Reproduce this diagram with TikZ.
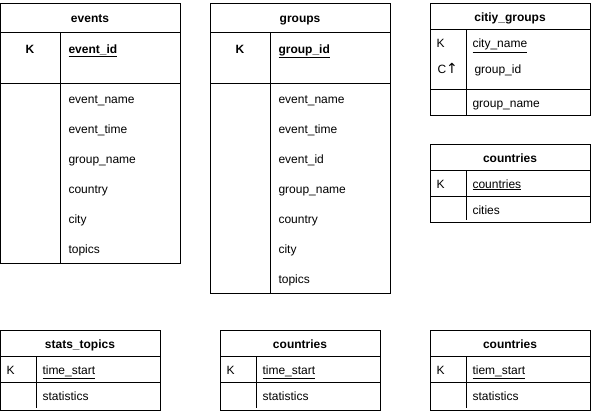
\documentclass[tikz,border=0pt]{standalone}
\usepackage{fontspec}
\setmainfont{Liberation Sans}
\newfontfamily\arrowfont{DejaVu Sans}
\begin{document}
\begin{tikzpicture}[x=1pt,y=-1pt,line width=1pt,
  tbl/.style={draw=black},
  ttl/.style={font=\fontsize{12}{14}\selectfont\bfseries,inner sep=0,anchor=base,yshift=-1pt},
  keyb/.style={font=\fontsize{12}{14}\selectfont\bfseries,inner sep=0,anchor=base,yshift=-1pt},
  fld/.style={font=\fontsize{12}{14}\selectfont,inner sep=0,anchor=base west,yshift=-1pt},
  fldb/.style={font=\fontsize{12}{14}\selectfont\bfseries,inner sep=0,anchor=base west,yshift=-1pt}]
\useasboundingbox (0,0) rectangle (591,412);
% ---- events
\draw[tbl] (0,4) rectangle (180,263);
\draw[tbl] (0,33) -- (180,33) (0,83) -- (180,83) (60,33) -- (60,263);
\node[ttl] (evT) at (90,22) {events};
\node[keyb] (evK) at (30,52) {K};
\node[fldb] (evId) at (68,52) {\underline{event\_id}};
\node[fld] (ev1) at (68,102) {event\_name};
\node[fld] (ev2) at (68,132) {event\_time};
\node[fld] (ev3) at (68,162) {group\_name};
\node[fld] (ev4) at (68,192) {country};
\node[fld] (ev5) at (68,222) {city};
\node[fld] (ev6) at (68,252) {topics};
% ---- groups
\draw[tbl] (210,4) rectangle (390,293);
\draw[tbl] (210,33) -- (390,33) (210,83) -- (390,83) (270,33) -- (270,293);
\node[ttl] (grT) at (300,22) {groups};
\node[keyb] (grK) at (240,52) {K};
\node[fldb] (grId) at (278,52) {\underline{group\_id}};
\node[fld] (gr1) at (278,102) {event\_name};
\node[fld] (gr2) at (278,132) {event\_time};
\node[fld] (gr3) at (278,162) {event\_id};
\node[fld] (gr4) at (278,192) {group\_name};
\node[fld] (gr5) at (278,222) {country};
\node[fld] (gr6) at (278,252) {city};
\node[fld] (gr7) at (278,282) {topics};
% ---- citiy_groups
\draw[tbl] (430,4) rectangle (590,115);
\draw[tbl] (430,30) -- (590,30) (430,89) -- (590,89) (466,30) -- (466,115);
\node[ttl] (cgT) at (510,21) {citiy\_groups};
\node[fld] (cgK) at (436,47) {K};
\node[fld] (cgC) at (437,73) {C{\arrowfont\fontsize{14}{16}\selectfont↑}};
\node[fld] (cg1) at (472,47) {\underline{city\_name}};
\node[fld] (cg2) at (474,73) {group\_id};
\node[fld] (cg3) at (472,106) {group\_name};
% ---- countries (right)
\draw[tbl] (430,144) rectangle (590,222);
\draw[tbl] (430,170) -- (590,170) (430,196) -- (590,196) (466,170) -- (466,220);
\node[ttl] (coT) at (510,161) {countries};
\node[fld] (coK) at (436,187) {K};
\node[fld] (co1) at (472,187) {\underline{countries}};
\node[fld] (co2) at (472,213) {cities};
% ---- stats_topics
\draw[tbl] (0,330) rectangle (160,410);
\draw[tbl] (0,356) -- (160,356) (0,382) -- (160,382) (36,356) -- (36,408);
\node[ttl] (stT) at (80,347) {stats\_topics};
\node[fld] (stK) at (6,373) {K};
\node[fld] (st1) at (42,373) {\underline{time\_start}};
\node[fld] (st2) at (42,399) {statistics};
% ---- countries (bottom middle)
\draw[tbl] (220,330) rectangle (380,410);
\draw[tbl] (220,356) -- (380,356) (220,382) -- (380,382) (256,356) -- (256,408);
\node[ttl] (cmT) at (300,347) {countries};
\node[fld] (cmK) at (226,373) {K};
\node[fld] (cm1) at (262,373) {\underline{time\_start}};
\node[fld] (cm2) at (262,399) {statistics};
% ---- countries (bottom right)
\draw[tbl] (430,330) rectangle (590,410);
\draw[tbl] (430,356) -- (590,356) (430,382) -- (590,382) (466,356) -- (466,408);
\node[ttl] (crT) at (510,347) {countries};
\node[fld] (crK) at (436,373) {K};
\node[fld] (cr1) at (472,373) {\underline{tiem\_start}};
\node[fld] (cr2) at (472,399) {statistics};
\end{tikzpicture}
\end{document}
